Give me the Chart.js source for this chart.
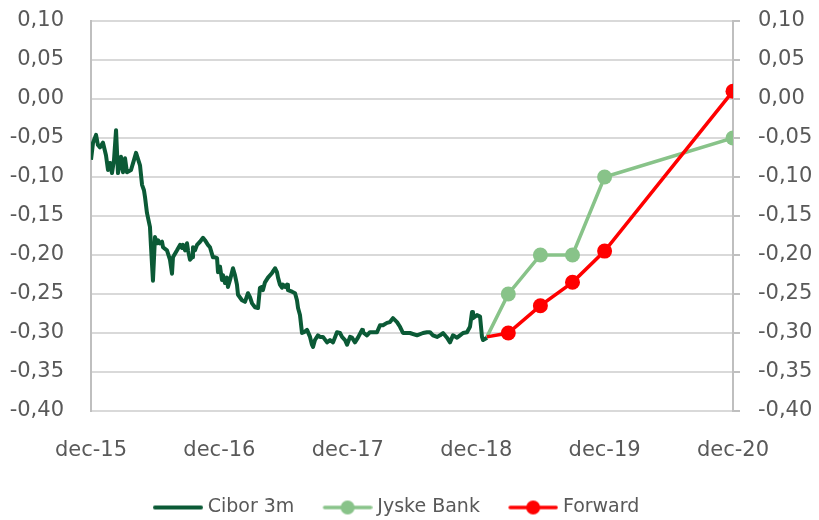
<!DOCTYPE html>
<html>
<head>
<meta charset="utf-8">
<title>Cibor 3m</title>
<script src="https://cdn.jsdelivr.net/npm/chart.js@4.4.0/dist/chart.umd.min.js"></script>
<style>
  html, body { margin: 0; padding: 0; background: #fff; }
  #wrap { width: 819px; height: 520px; }
</style>
</head>
<body>
<div id="wrap"><canvas id="rates" width="819" height="520"></canvas></div>
<script>
// x is months counted from dec-15 (0) to dec-20 (60)
var xTickMonths = [0, 12, 24, 36, 48, 60];
var xTickLabels = ['dec-15', 'dec-16', 'dec-17', 'dec-18', 'dec-19', 'dec-20'];

var ciborMonths = [0.00,0.19,0.47,0.65,0.84,1.12,1.40,1.59,1.78,1.96,
  2.15,2.34,2.52,2.80,2.99,3.18,3.36,3.74,4.02,4.21,
  4.58,4.77,4.95,5.05,5.23,5.51,5.61,5.79,5.98,6.17,
  6.26,6.45,6.64,6.73,7.10,7.38,7.57,7.66,8.04,8.32,
  8.50,8.60,8.79,8.97,9.07,9.25,9.44,9.53,9.72,9.91,
  10.19,10.47,10.65,10.93,11.12,11.40,11.59,11.78,11.87,12.06,
  12.24,12.34,12.52,12.71,12.80,12.99,13.27,13.46,13.64,13.74,
  14.11,14.39,14.67,14.86,15.05,15.33,15.61,15.79,15.98,16.07,
  16.26,16.54,16.92,17.20,17.38,17.48,17.66,17.85,17.94,18.13,
  18.32,18.41,18.79,19.07,19.25,19.35,19.53,19.72,19.91,20.19,
  20.47,20.65,20.75,20.93,21.21,21.40,21.68,22.06,22.34,22.62,
  22.99,23.27,23.46,23.74,23.93,24.21,24.39,24.67,24.95,25.33,
  25.42,25.79,26.07,26.36,26.73,27.01,27.29,27.66,27.94,28.22,
  28.60,28.88,29.16,29.81,30.47,31.03,31.40,31.68,31.96,32.34,
  32.62,32.90,33.27,33.55,33.83,34.21,34.49,34.77,35.14,35.42,
  35.61,35.70,36.07,36.36,36.54,36.64,37.01];
var ciborValues = [-0.078,-0.056,-0.046,-0.059,-0.062,-0.056,-0.072,-0.091,-0.082,-0.095,
  -0.078,-0.040,-0.095,-0.074,-0.094,-0.076,-0.094,-0.091,-0.078,-0.069,
  -0.085,-0.110,-0.117,-0.126,-0.146,-0.164,-0.190,-0.233,-0.177,-0.185,
  -0.181,-0.185,-0.183,-0.190,-0.194,-0.206,-0.224,-0.203,-0.194,-0.187,
  -0.191,-0.187,-0.194,-0.185,-0.194,-0.206,-0.203,-0.190,-0.194,-0.187,
  -0.183,-0.178,-0.181,-0.187,-0.190,-0.203,-0.203,-0.204,-0.222,-0.215,
  -0.232,-0.226,-0.236,-0.229,-0.241,-0.232,-0.217,-0.226,-0.238,-0.251,
  -0.258,-0.260,-0.249,-0.254,-0.262,-0.267,-0.268,-0.242,-0.241,-0.245,
  -0.235,-0.229,-0.223,-0.217,-0.222,-0.229,-0.238,-0.242,-0.238,-0.241,
  -0.238,-0.245,-0.247,-0.249,-0.258,-0.268,-0.277,-0.300,-0.299,-0.296,
  -0.305,-0.315,-0.318,-0.309,-0.303,-0.305,-0.305,-0.312,-0.309,-0.312,
  -0.299,-0.300,-0.305,-0.309,-0.315,-0.305,-0.306,-0.312,-0.306,-0.296,
  -0.299,-0.303,-0.299,-0.299,-0.299,-0.290,-0.290,-0.287,-0.286,-0.281,
  -0.286,-0.292,-0.300,-0.300,-0.303,-0.300,-0.299,-0.299,-0.303,-0.305,
  -0.303,-0.300,-0.306,-0.312,-0.303,-0.306,-0.303,-0.300,-0.299,-0.292,
  -0.273,-0.281,-0.277,-0.279,-0.305,-0.309,-0.306];

var jyskeMonths = [37, 39, 42, 45, 48, 60];
var jyskeValues = [-0.305, -0.25, -0.20, -0.20, -0.10, -0.05];

var forwardMonths = [37, 39, 42, 45, 48, 60];
var forwardValues = [-0.305, -0.30, -0.265, -0.235, -0.195, 0.01];

var textColor = '#595959';
var ciborColor = '#0b5a36';
var jyskeColor = '#88c389';
var forwardColor = '#ff0000';

Chart.defaults.font.family = 'DejaVu Sans';

function toPoints(xs, ys) {
    return xs.map(function (x, i) { return { x: x, y: ys[i] }; });
}

// danish style numbers: 0,05
function fmt(v) {
    return (Math.round(v * 100) / 100).toFixed(2).replace('.', ',');
}

// line with a dot in the middle, as in the excel legend
// (canvas is a bit wider than the box so the text sits close to the line)
function legendSwatch(color, lineWidth, dot) {
    var c = document.createElement('canvas');
    c.width = 55;
    c.height = 16;
    var g = c.getContext('2d');
    g.strokeStyle = color;
    g.lineWidth = lineWidth;
    g.lineCap = 'round';
    g.beginPath();
    g.moveTo(7, 8);
    g.lineTo(53, 8);
    g.stroke();
    if (dot) {
        g.fillStyle = color;
        g.beginPath();
        g.arc(30, 8, 7, 0, Math.PI * 2);
        g.fill();
    }
    return c;
}

var swatches = [
    legendSwatch(ciborColor, 4, false),
    legendSwatch(jyskeColor, 3.5, true),
    legendSwatch(forwardColor, 3.5, true)
];

// the excel legend sits a little left of centre
var legendNudge = {
    id: 'legendNudge',
    afterLayout: function (chart) {
        chart.legend.left -= 13.5;
        chart.legend.right -= 13.5;
    }
};

// fixed axis width, and no extra top/bottom room for the tick labels
function fixWidth(w) {
    return function (scale) {
        scale.width = w;
        scale.paddingTop = 0;
        scale.paddingBottom = 0;
    };
}

var yTicks = {
    stepSize: 0.05,
    color: textColor,
    font: { size: 21 },
    callback: fmt
};

new Chart(document.getElementById('rates'), {
    type: 'line',
    data: {
        datasets: [
            {
                label: 'Cibor 3m',
                data: toPoints(ciborMonths, ciborValues),
                borderColor: ciborColor,
                backgroundColor: ciborColor,
                borderWidth: 4,
                borderJoinStyle: 'round',
                pointRadius: 0,
                tension: 0,
                order: 0
            },
            {
                label: 'Jyske Bank',
                data: toPoints(jyskeMonths, jyskeValues),
                borderColor: jyskeColor,
                backgroundColor: jyskeColor,
                borderWidth: 3.5,
                pointRadius: [0, 7.5, 7.5, 7.5, 7.5, 7.5],
                pointBorderWidth: 0,
                tension: 0,
                order: 2
            },
            {
                label: 'Forward',
                data: toPoints(forwardMonths, forwardValues),
                borderColor: forwardColor,
                backgroundColor: forwardColor,
                borderWidth: 3.5,
                pointRadius: [0, 7.5, 7.5, 7.5, 7.5, 7.5],
                pointBorderWidth: 0,
                tension: 0,
                order: 1
            }
        ]
    },
    plugins: [legendNudge],
    options: {
        responsive: false,
        animation: false,
        layout: { padding: { top: 21, left: 0, right: 0, bottom: -7 } },
        plugins: {
            tooltip: { enabled: false },
            legend: {
                position: 'bottom',
                labels: {
                    usePointStyle: true,
                    pointStyleWidth: 45.5,
                    padding: 28,
                    color: textColor,
                    font: { size: 19 },
                    generateLabels: function (chart) {
                        return chart.data.datasets.map(function (ds, i) {
                            return {
                                text: ds.label,
                                pointStyle: swatches[i],
                                fillStyle: ds.borderColor,
                                strokeStyle: ds.borderColor,
                                lineWidth: 0,
                                fontColor: textColor,
                                hidden: false,
                                datasetIndex: i
                            };
                        });
                    }
                }
            }
        },
        scales: {
            x: {
                type: 'linear',
                min: 0,
                max: 60,
                afterBuildTicks: function (scale) {
                    scale.ticks = xTickMonths.map(function (v) { return { value: v }; });
                },
                afterFit: function (scale) { scale.height = 59; },
                ticks: {
                    color: textColor,
                    font: { size: 21 },
                    padding: 19,
                    maxRotation: 0,
                    autoSkip: false,
                    callback: function (v) {
                        var i = xTickMonths.indexOf(v);
                        return i < 0 ? '' : xTickLabels[i];
                    }
                },
                grid: { display: false },
                border: { display: false }
            },
            y: {
                position: 'left',
                min: -0.4,
                max: 0.1,
                afterFit: fixWidth(91),
                ticks: Object.assign({ padding: 27 }, yTicks),
                grid: { color: '#d9d9d9', lineWidth: 2, drawTicks: false },
                border: { color: '#bfbfbf', width: 2 }
            },
            y2: {
                position: 'right',
                min: -0.4,
                max: 0.1,
                afterFit: fixWidth(86),
                ticks: Object.assign({ padding: 18 }, yTicks),
                grid: { drawOnChartArea: false, drawTicks: true, tickLength: 7, color: '#bfbfbf', lineWidth: 2 },
                border: { color: '#bfbfbf', width: 2 }
            }
        }
    }
});
</script>
</body>
</html>
